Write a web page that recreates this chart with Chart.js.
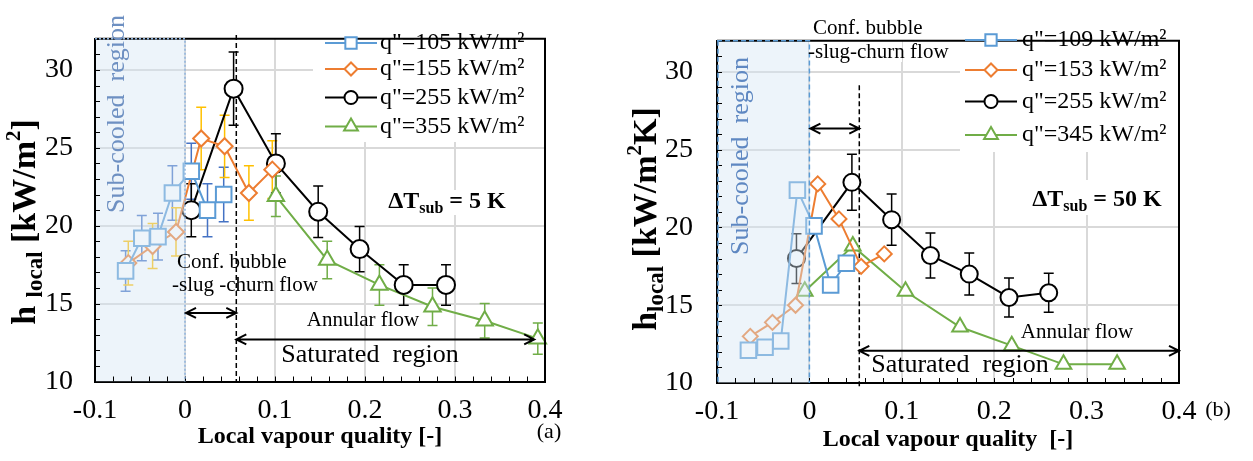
<!DOCTYPE html>
<html><head><meta charset="utf-8">
<script src="https://cdn.jsdelivr.net/npm/chart.js@4.4.1/dist/chart.umd.min.js"></script>
<style>
html,body{margin:0;padding:0;background:#fff;}
#wrap{position:relative;width:1253px;height:461px;overflow:hidden;}
canvas{position:absolute;top:0;}
</style></head><body>
<div id="wrap">
<canvas id="ca" width="620" height="461" style="left:0;width:620px;height:461px"></canvas>
<canvas id="cb" width="633" height="461" style="left:620px;width:633px;height:461px"></canvas>
</div>
<script>
// ---------- axes ----------
const xTicks = [-0.1, 0, 0.1, 0.2, 0.3, 0.4];
const xTickLabels = ['-0.1', '0', '0.1', '0.2', '0.3', '0.4'];
const yTicks = [10, 15, 20, 25, 30];
const yTickLabels = ['10', '15', '20', '25', '30'];

// ---------- panel (a): ΔTsub = 5 K ----------
const a_q105_x = [-0.066, -0.048, -0.030, -0.014, 0.007, 0.025, 0.043];
const a_q105_y = [17.1, 19.2, 19.3, 22.1, 23.5, 21.0, 22.0];
const a_q105_err = [1.3, 1.45, 1.5, 1.75, 1.8, 1.7, 1.75];
const a_q155_x = [-0.063, -0.036, -0.010, 0.018, 0.044, 0.071, 0.097];
const a_q155_y = [17.6, 18.7, 19.6, 25.6, 25.1, 22.1, 23.6];
const a_q155_err = [1.4, 1.45, 1.55, 2.0, 2.0, 1.75, 1.85];
const a_q255_x = [0.007, 0.054, 0.101, 0.148, 0.194, 0.243, 0.290];
const a_q255_y = [21.0, 28.8, 24.0, 20.9, 18.5, 16.2, 16.2];
const a_q255_err = [1.7, 2.35, 1.9, 1.65, 1.45, 1.3, 1.3];
const a_q355_x = [0.101, 0.158, 0.216, 0.275, 0.333, 0.392];
const a_q355_y = [21.9, 17.8, 16.2, 14.8, 13.9, 12.75];
const a_q355_err = [1.3, 1.2, 1.3, 1.2, 1.1, 1.0];
const a_labels = ['q"=105 kW/m²', 'q"=155 kW/m²', 'q"=255 kW/m²', 'q"=355 kW/m²'];

// ---------- panel (b): ΔTsub = 50 K ----------
const b_q109_x = [-0.066, -0.048, -0.031, -0.013, 0.005, 0.023, 0.040];
const b_q109_y = [12.1, 12.3, 12.7, 22.4, 20.1, 16.3, 17.7];
const b_q153_x = [-0.064, -0.040, -0.015, 0.009, 0.032, 0.056, 0.081];
const b_q153_y = [13.0, 13.9, 15.0, 22.8, 20.55, 17.5, 18.3];
const b_q255_x = [-0.014, 0.046, 0.089, 0.131, 0.173, 0.216, 0.259];
const b_q255_y = [18.0, 22.9, 20.5, 18.2, 17.0, 15.5, 15.8];
const b_q255_err = [1.6, 1.8, 1.65, 1.45, 1.35, 1.25, 1.25];
const b_q345_x = [-0.005, 0.047, 0.104, 0.163, 0.219, 0.275, 0.333];
const b_q345_y = [15.9, 18.8, 15.9, 13.6, 12.4, 11.2, 11.2];
const b_labels = ['q"=109 kW/m²', 'q"=153 kW/m²', 'q"=255 kW/m²', 'q"=345 kW/m²'];

const FONT = '"Liberation Serif", "Times New Roman", serif';
const BLUE = '#5b9bd5', ORANGE = '#ed7d31', BLACK = '#000000', GREEN = '#70ad47';

function font(size, bold) { return (bold ? 'bold ' : '') + size + 'px ' + FONT; }

function drawRich(ctx, parts, cx, cy, size, bold, rot, color) {
  ctx.save();
  ctx.translate(cx, cy);
  if (rot) ctx.rotate(rot);
  ctx.fillStyle = color || '#000';
  ctx.textBaseline = 'middle';
  ctx.textAlign = 'left';
  let w = 0;
  const ws = [];
  parts.forEach(p => { ctx.font = font(Math.round(size * (p.s || 1)), bold); const m = ctx.measureText(p.t).width; ws.push(m); w += m; });
  let x = -w / 2;
  parts.forEach((p, i) => { ctx.font = font(Math.round(size * (p.s || 1)), bold); ctx.fillText(p.t, x, (p.dy || 0) * size); x += ws[i]; });
  ctx.restore();
}

function text(ctx, t, x, y, size, bold, align) {
  ctx.save();
  ctx.font = font(size, bold);
  ctx.fillStyle = '#000';
  ctx.textAlign = align || 'center';
  ctx.textBaseline = 'middle';
  ctx.fillText(t, x, y);
  ctx.restore();
}

function dblArrow(ctx, x1, x2, y) {
  ctx.save();
  ctx.strokeStyle = '#000';
  ctx.lineWidth = 2;
  ctx.beginPath();
  ctx.moveTo(x1, y); ctx.lineTo(x2, y);
  ctx.moveTo(x1 + 10, y - 5); ctx.lineTo(x1, y); ctx.lineTo(x1 + 10, y + 5);
  ctx.moveTo(x2 - 10, y - 5); ctx.lineTo(x2, y); ctx.lineTo(x2 - 10, y + 5);
  ctx.stroke();
  ctx.restore();
}

function marker(ctx, style, r, x, y, color) {
  ctx.save();
  ctx.fillStyle = '#fff';
  ctx.strokeStyle = color;
  ctx.lineWidth = 2;
  Chart.helpers.drawPoint(ctx, { pointStyle: style, radius: r, rotation: 0, borderWidth: 2 }, x, y);
  ctx.restore();
}

function makeChart(id, cfg) {
  const datasets = cfg.series.map(s => ({
    label: s.label,
    data: s.x.map((v, i) => ({ x: v, y: s.y[i] })),
    borderColor: s.color, borderWidth: 2,
    pointStyle: s.style, pointRadius: s.r, pointHoverRadius: s.r,
    pointBackgroundColor: '#fff', pointBorderColor: s.color, pointBorderWidth: 2,
    tension: 0, clip: false, fill: false
  }));

  const plugin = {
    id: 'custom' + id,
    beforeDatasetsDraw(chart) {
      const ctx = chart.ctx, xs = chart.scales.x, ys = chart.scales.y;
      ctx.save();
      ctx.fillStyle = '#fff';
      cfg.boxes.forEach(b => ctx.fillRect(b[0], b[1], b[2] - b[0], b[3] - b[1]));
      ctx.restore();
      ctx.save();
      ctx.strokeStyle = '#000'; ctx.lineWidth = 1.5; ctx.setLineDash([5, 3]);
      const dx = xs.getPixelForValue(cfg.satX);
      ctx.beginPath();
      ctx.moveTo(dx, ys.getPixelForValue(cfg.satTop));
      ctx.lineTo(dx, ys.getPixelForValue(cfg.satBottom));
      ctx.stroke();
      ctx.restore();
      cfg.series.forEach(s => {
        if (!s.err) return;
        ctx.save();
        ctx.strokeStyle = s.errColor; ctx.lineWidth = 1.5;
        s.x.forEach((v, i) => {
          const x = xs.getPixelForValue(v);
          const t = ys.getPixelForValue(s.y[i] + s.err[i]);
          const b = ys.getPixelForValue(s.y[i] - s.err[i]);
          ctx.beginPath();
          ctx.moveTo(x, t); ctx.lineTo(x, b);
          ctx.moveTo(x - 5, t); ctx.lineTo(x + 5, t);
          ctx.moveTo(x - 5, b); ctx.lineTo(x + 5, b);
          ctx.stroke();
        });
        ctx.restore();
      });
    },
    afterDatasetsDraw(chart) {
      const ctx = chart.ctx, xs = chart.scales.x, ys = chart.scales.y, ca = chart.chartArea;
      const rx0 = xs.getPixelForValue(-0.1), rx1 = xs.getPixelForValue(0);
      ctx.save();
      ctx.fillStyle = 'rgba(212,228,243,0.42)';
      ctx.fillRect(rx0 + 1, ca.top, rx1 - rx0 - 1, ca.bottom - ca.top);
      ctx.restore();
      ctx.save();
      ctx.strokeStyle = '#000'; ctx.lineWidth = 1;
      ctx.beginPath();
      for (let v = 11; v <= 32; v += 1) {
        const y = Math.round(ys.getPixelForValue(v)) + 0.5;
        ctx.moveTo(ca.left, y); ctx.lineTo(ca.left + 5, y);
      }
      for (let k = 1; k < 25; k++) {
        const x = Math.round(xs.getPixelForValue(-0.1 + k * 0.02)) + 0.5;
        ctx.moveTo(x, ca.bottom); ctx.lineTo(x, ca.bottom - 5);
      }
      ctx.stroke();
      ctx.restore();
      ctx.save();
      ctx.strokeStyle = '#000'; ctx.lineWidth = 2;
      ctx.beginPath();
      ctx.moveTo(ca.left, ca.top); ctx.lineTo(ca.right, ca.top); ctx.lineTo(ca.right, ca.bottom);
      ctx.stroke();
      ctx.restore();
      ctx.save();
      ctx.strokeStyle = cfg.regionLine; ctx.lineWidth = 1.5; ctx.setLineDash(cfg.regionDash);
      ctx.beginPath();
      ctx.moveTo(rx0, ca.top); ctx.lineTo(rx1, ca.top); ctx.lineTo(rx1, ca.bottom);
      if (cfg.regionLeft) { ctx.moveTo(rx0 + 1, ca.top); ctx.lineTo(rx0 + 1, ca.bottom); }
      ctx.stroke();
      ctx.restore();
      drawRich(ctx, [{ t: 'Sub-cooled  region' }], cfg.subText[0], cfg.subText[1], 26, false, -Math.PI / 2, cfg.subColor);
      const L = cfg.legend;
      cfg.series.forEach((s, i) => {
        const y = L.rows[i];
        ctx.save();
        ctx.strokeStyle = s.color; ctx.lineWidth = 2;
        ctx.beginPath(); ctx.moveTo(L.x0, y); ctx.lineTo(L.x1, y); ctx.stroke();
        ctx.restore();
        marker(ctx, s.style, s.lr, (L.x0 + L.x1) / 2, y, s.color);
        text(ctx, s.label, L.tx, y, L.size, false, 'left');
      });
      dblArrow(ctx, xs.getPixelForValue(0) + 1, xs.getPixelForValue(cfg.satX), ys.getPixelForValue(cfg.confArrowY));
      dblArrow(ctx, xs.getPixelForValue(cfg.satX), xs.getPixelForValue(cfg.annEnd), ys.getPixelForValue(cfg.annArrowY));
      cfg.texts.forEach(t => text(ctx, t.t, t.x, t.y, t.size, t.bold, t.align));
      drawRich(ctx, [{ t: 'ΔT' }, { t: 'sub', s: 0.68, dy: 0.3 }, { t: cfg.dtText }], cfg.dtPos[0], cfg.dtPos[1], 24, true, 0);
      text(ctx, cfg.xTitle, (ca.left + ca.right) / 2, cfg.xTitleY, 24, true);
      drawRich(ctx, cfg.yTitle, cfg.yTitlePos[0], cfg.yTitlePos[1], 34, true, -Math.PI / 2);
    }
  };

  return new Chart(document.getElementById(id), {
    type: 'line',
    data: { datasets },
    options: {
      responsive: false,
      animation: false,
      events: [],
      layout: { padding: { left: 0, top: cfg.top, right: cfg.W - cfg.right, bottom: 0 } },
      plugins: { legend: { display: false }, tooltip: { enabled: false }, title: { display: false } },
      scales: {
        x: {
          type: 'linear', min: -0.1, max: 0.4,
          afterBuildTicks: s => { s.ticks = xTicks.map(v => ({ value: v })); },
          afterFit: s => { s.height = 461 - cfg.bottom; },
          ticks: { callback: (v, i) => xTickLabels[i], font: { family: FONT, size: 28 }, color: '#000', padding: cfg.xPad, maxRotation: 0, autoSkip: false },
          grid: { color: c => (c.tick && (c.tick.value <= -0.1 || c.tick.value >= 0.4)) ? 'rgba(0,0,0,0)' : '#d9d9d9', lineWidth: 2, drawTicks: false },
          border: { display: true, color: '#000', width: 2 }
        },
        y: {
          type: 'linear', min: 10, max: 32,
          afterBuildTicks: s => { s.ticks = yTicks.map(v => ({ value: v })); },
          afterFit: s => { s.width = cfg.left; },
          ticks: { callback: (v, i) => yTickLabels[i], font: { family: FONT, size: 28 }, color: '#000', padding: cfg.yPad, autoSkip: false },
          grid: { color: c => (c.tick && c.tick.value <= 10) ? 'rgba(0,0,0,0)' : '#d9d9d9', lineWidth: 2, drawTicks: false },
          border: { display: true, color: '#000', width: 2 }
        }
      }
    },
    plugins: [plugin]
  });
}

makeChart('ca', {
  W: 620, left: 95, right: 545, top: 9, bottom: 381.5, xPad: 12, yPad: 22,
  series: [
    { label: a_labels[0], x: a_q105_x, y: a_q105_y, err: a_q105_err, color: BLUE, errColor: '#4472c4', style: 'rect', r: 11, lr: 8 },
    { label: a_labels[1], x: a_q155_x, y: a_q155_y, err: a_q155_err, color: ORANGE, errColor: '#ffc000', style: 'rectRot', r: 8, lr: 6.5 },
    { label: a_labels[2], x: a_q255_x, y: a_q255_y, err: a_q255_err, color: BLACK, errColor: '#000', style: 'circle', r: 9, lr: 6.5 },
    { label: a_labels[3], x: a_q355_x, y: a_q355_y, err: a_q355_err, color: GREEN, errColor: GREEN, style: 'triangle', r: 9.5, lr: 8 }
  ],
  boxes: [[313, 10, 544, 142], [380, 190, 513, 215]],
  satX: 0.057, satTop: 32.25, satBottom: 10,
  confArrowY: 14.4, annArrowY: 12.7, annEnd: 0.388,
  regionLine: '#8fb4de', regionDash: [2, 2], regionLeft: false,
  subText: [117, 114], subColor: '#6e90c2',
  legend: { x0: 325, x1: 377, tx: 380, rows: [43, 69, 97.5, 126.5], size: 24 },
  texts: [
    { t: 'Conf. bubble', x: 177, y: 262, size: 21, align: 'left' },
    { t: '-slug -churn flow', x: 172, y: 285, size: 21, align: 'left' },
    { t: 'Annular flow', x: 363, y: 320, size: 21 },
    { t: 'Saturated  region', x: 370, y: 355, size: 26 },
    { t: '(a)', x: 549, y: 432, size: 22 }
  ],
  dtText: ' = 5 K', dtPos: [447, 202],
  xTitle: 'Local vapour quality [-]', xTitleY: 437,
  yTitle: [{ t: 'h ' }, { t: 'local', s: 0.68, dy: 0.3 }, { t: ' [kW/m' }, { t: '2', s: 0.62, dy: -0.35 }, { t: ']' }],
  yTitlePos: [26, 222]
});

makeChart('cb', {
  W: 633, left: 97, right: 559, top: 12, bottom: 383, xPad: 12, yPad: 24,
  series: [
    { label: b_labels[0], x: b_q109_x, y: b_q109_y, color: BLUE, style: 'rect', r: 11, lr: 8 },
    { label: b_labels[1], x: b_q153_x, y: b_q153_y, color: ORANGE, style: 'rectRot', r: 7.5, lr: 6.5 },
    { label: b_labels[2], x: b_q255_x, y: b_q255_y, err: b_q255_err, color: BLACK, errColor: '#000', style: 'circle', r: 8.5, lr: 6.5 },
    { label: b_labels[3], x: b_q345_x, y: b_q345_y, color: GREEN, style: 'triangle', r: 9, lr: 8 }
  ],
  boxes: [[340, 13, 558, 152], [403, 180, 553, 215], [189, 14, 282, 62]],
  satX: 0.054, satTop: 29.15, satBottom: 9.6,
  confArrowY: 26.36, annArrowY: 12.07, annEnd: 0.4,
  regionLine: '#5b9bd5', regionDash: [5, 3], regionLeft: true,
  subText: [121, 156], subColor: '#5f88c2',
  legend: { x0: 345, x1: 397, tx: 402, rows: [40, 70, 101.5, 135], size: 24 },
  texts: [
    { t: 'Conf. bubble', x: 193, y: 28, size: 21, align: 'left' },
    { t: '-slug-churn flow', x: 188, y: 52, size: 21, align: 'left' },
    { t: 'Annular flow', x: 457, y: 332, size: 21 },
    { t: 'Saturated  region', x: 340, y: 365, size: 26 },
    { t: '(b)', x: 598, y: 410, size: 22 }
  ],
  dtText: ' = 50 K', dtPos: [477, 200],
  xTitle: 'Local vapour quality  [-]', xTitleY: 440,
  yTitle: [{ t: 'h' }, { t: 'local', s: 0.68, dy: 0.3 }, { t: ' [kW/m' }, { t: '2', s: 0.62, dy: -0.35 }, { t: 'K]' }],
  yTitlePos: [27, 219]
});
</script>
</body></html>
